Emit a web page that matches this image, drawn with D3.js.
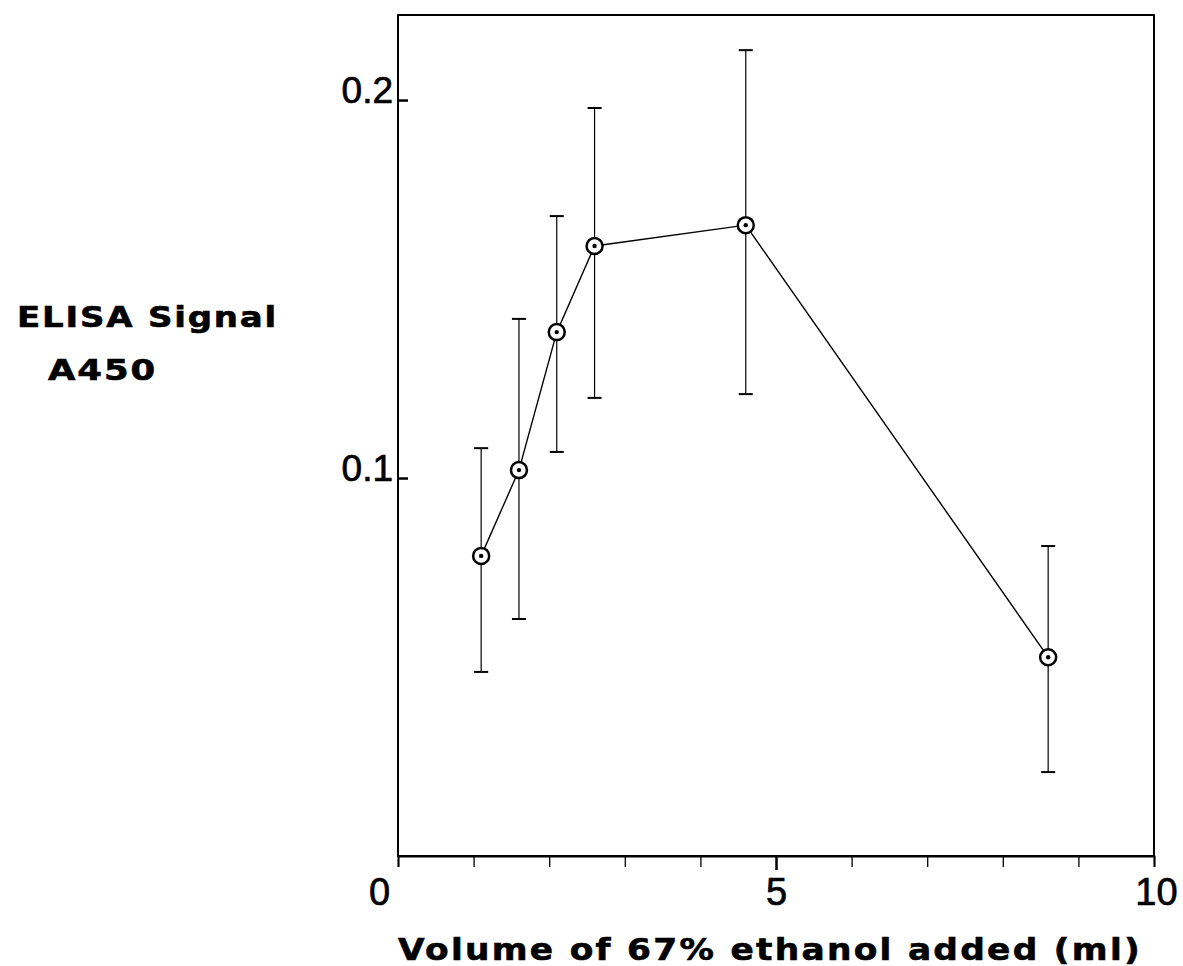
<!DOCTYPE html>
<html>
<head>
<meta charset="utf-8">
<script src="https://cdn.jsdelivr.net/npm/d3@7"></script>
<style>
  body { margin: 0; background: #fff; }
  svg { display: block; }
</style>
</head>
<body>
<div id="chart"></div>
<script>
// Data
const volumes = [1.1, 1.6, 2.1, 2.6, 4.6, 8.6];          // ml of 67% ethanol
const signals = [0.0794, 0.1021, 0.1386, 0.1614, 0.1669, 0.0526];
const errHigh = [0.1079, 0.1421, 0.1693, 0.1979, 0.2132, 0.0820];
const errLow  = [0.0487, 0.0627, 0.1069, 0.1212, 0.1222, 0.0222];
const xTicks = [0, 1, 2, 3, 4, 5, 6, 7, 8, 9, 10];
const xTickLabels = ['0', '', '', '', '', '5', '', '', '', '', '10'];
const yTicks = [0.1, 0.2];
const yTickLabels = ['0.1', '0.2'];

function drawChart(container = '#chart') {
    const width = 1183;
    const height = 966;
    const margin = { top: 15, right: 29, bottom: 110, left: 398 };
    const innerWidth = width - margin.left - margin.right;
    const innerHeight = height - margin.top - margin.bottom;

    const svg = d3.select(container)
        .append('svg')
        .attr('width', width)
        .attr('height', height);

    const g = svg.append('g')
        .attr('transform', `translate(${margin.left},${margin.top})`);

    const x = d3.scaleLinear().domain([0, 10]).range([0, innerWidth]);
    const y = d3.scaleLinear().domain([0, 0.2225]).range([innerHeight, 0]);

    const tickFont = '"Liberation Sans", Arial, sans-serif';
    const titleFont = '"DejaVu Sans", Verdana, sans-serif';

    // Frame
    g.append('rect')
        .attr('width', innerWidth)
        .attr('height', innerHeight)
        .attr('fill', 'none')
        .attr('stroke', '#000')
        .attr('stroke-width', 2);

    // X axis, ticks pointing down
    const xAxis = g.append('g')
        .attr('transform', `translate(0,${innerHeight})`)
        .call(d3.axisBottom(x)
            .tickValues(xTicks)
            .tickSize(11)
            .tickPadding(11)
            .tickFormat((d, i) => xTickLabels[i]));
    xAxis.select('.domain').attr('stroke-width', 2);
    xAxis.selectAll('.tick line')
        .attr('y2', d => d === 5 ? 14 : 11)
        .attr('stroke-width', d => d === 5 ? 2.5 : 1.3);
    xAxis.selectAll('.tick text')
        .attr('dy', '0.72em')
        .attr('dx', d => d === 0 ? -19 : (d === 10 ? 2 : 0))
        .style('font-family', tickFont)
        .style('font-size', '38px')
        .attr('fill', '#000')
        .attr('stroke', '#000')
        .attr('stroke-width', 0.7);

    // Y axis, ticks pointing inside
    const yAxis = g.append('g')
        .call(d3.axisLeft(y)
            .tickValues(yTicks)
            .tickSize(-10)
            .tickPadding(5)
            .tickFormat((d, i) => yTickLabels[i]));
    yAxis.select('.domain').remove();
    yAxis.selectAll('.tick line').attr('stroke-width', 2.5);
    yAxis.selectAll('.tick text')
        .attr('dy', '0.06em')
        .style('font-family', tickFont)
        .style('font-size', '37px')
        .attr('fill', '#000')
        .attr('stroke', '#000')
        .attr('stroke-width', 0.7);

    // Error bars
    const capHalf = 7;
    const bars = g.append('g').attr('class', 'error-bars');
    volumes.forEach((v, i) => {
        bars.append('line')
            .attr('x1', x(v)).attr('x2', x(v))
            .attr('y1', y(errLow[i])).attr('y2', y(errHigh[i]))
            .attr('stroke', '#000').attr('stroke-width', 1.2);
        [errLow[i], errHigh[i]].forEach(e => {
            bars.append('line')
                .attr('x1', x(v) - capHalf).attr('x2', x(v) + capHalf)
                .attr('y1', y(e)).attr('y2', y(e))
                .attr('stroke', '#000').attr('stroke-width', 2);
        });
    });

    // Connecting line
    const line = d3.line()
        .x((d, i) => x(volumes[i]))
        .y(d => y(d));
    g.append('path')
        .datum(signals)
        .attr('d', line)
        .attr('fill', 'none')
        .attr('stroke', '#000')
        .attr('stroke-width', 1.4);

    // Markers: open circle with dot
    const pts = g.append('g').selectAll('g')
        .data(signals)
        .join('g')
        .attr('transform', (d, i) => `translate(${x(volumes[i])},${y(d)})`);
    pts.append('circle')
        .attr('r', 8)
        .attr('fill', '#fff')
        .attr('stroke', '#000')
        .attr('stroke-width', 2.5);
    pts.append('circle')
        .attr('r', 2.2)
        .attr('fill', '#000');

    // Bold titles: wide face with open letter spacing, fitted to the width in the figure
    const title = (tx, ty, len, size, spacing, str) => svg.append('text')
        .attr('x', tx)
        .attr('y', ty)
        .attr('textLength', len)
        .attr('lengthAdjust', 'spacingAndGlyphs')
        .style('font-family', titleFont)
        .style('font-weight', 'bold')
        .style('font-size', `${size}px`)
        .style('letter-spacing', `${spacing}px`)
        .attr('stroke', '#000')
        .attr('stroke-width', 0.6)
        .text(str);

    title(17, 327, 261, 28, 1.5, 'ELISA Signal');
    title(48, 380, 109, 28, 1.5, 'A450');
    title(398, 960, 744, 30, 2, 'Volume of 67% ethanol added (ml)');
}

drawChart();
</script>
</body>
</html>
